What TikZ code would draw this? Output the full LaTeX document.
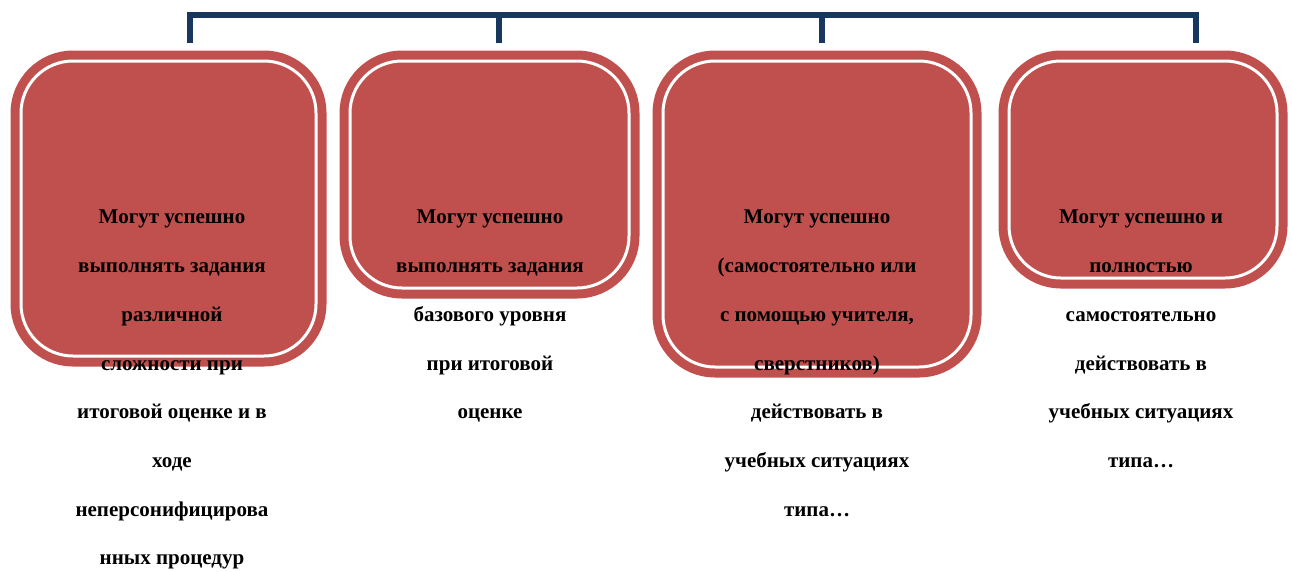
\documentclass[tikz,border=0pt]{standalone}
\usepackage{fontspec}
\setmainfont{Liberation Serif}
\usetikzlibrary{positioning}

\definecolor{cardred}{HTML}{C0504D}
\definecolor{linkblue}{HTML}{17375E}

\begin{document}
\begin{tikzpicture}[x=1pt,y=-1pt,
   card/.style={draw=cardred,fill=cardred,double=white,double distance=3pt,
      line width=9pt,rounded corners=52pt,inner sep=0pt},
   desc/.style={font=\fontsize{21}{48.7}\selectfont\bfseries,align=center,
      anchor=north,inner sep=0pt},
   link/.style={draw=linkblue,line width=6pt,line join=miter}]
   \useasboundingbox (0,0) rectangle (1292,571);
   % the four cards
   \node[card,minimum width=295pt,minimum height=295pt] (b1) at (168.5,208.5) {};
   \node[card,minimum width=279pt,minimum height=227pt] (b2) at (489.5,174.5) {};
   \node[card,minimum width=308pt,minimum height=306pt] (b3) at (817,214) {};
   \node[card,minimum width=268pt,minimum height=217pt] (b4) at (1143,169.5) {};
   % texts
   \node[desc] (t1) at (172,210) {Могут успешно\\выполнять задания\\различной\\сложности при\\итоговой оценке и в\\ходе\\неперсонифицирова\\нных процедур};
   \node[desc] (t2) at (490,210) {Могут успешно\\выполнять задания\\базового уровня\\при итоговой\\оценке};
   \node[desc] (t3) at (817,210) {Могут успешно\\(самостоятельно или\\с помощью учителя,\\сверстников)\\действовать в\\учебных ситуациях\\типа\dots};
   \node[desc] (t4) at (1141,210) {Могут успешно и\\полностью\\самостоятельно\\действовать в\\учебных ситуациях\\типа\dots};
   % bracket over the cards
   \coordinate (top) at (0,15);
   \coordinate (s1) at (190,43);
   \coordinate (s2) at (499,43);
   \coordinate (s3) at (822,43);
   \coordinate (s4) at (1196,43);
   \draw[link] (s1) -- (s1 |- top) -- (s4 |- top) -- (s4);
   \draw[link] (s2) -- (s2 |- top);
   \draw[link] (s3) -- (s3 |- top);
\end{tikzpicture}
\end{document}
